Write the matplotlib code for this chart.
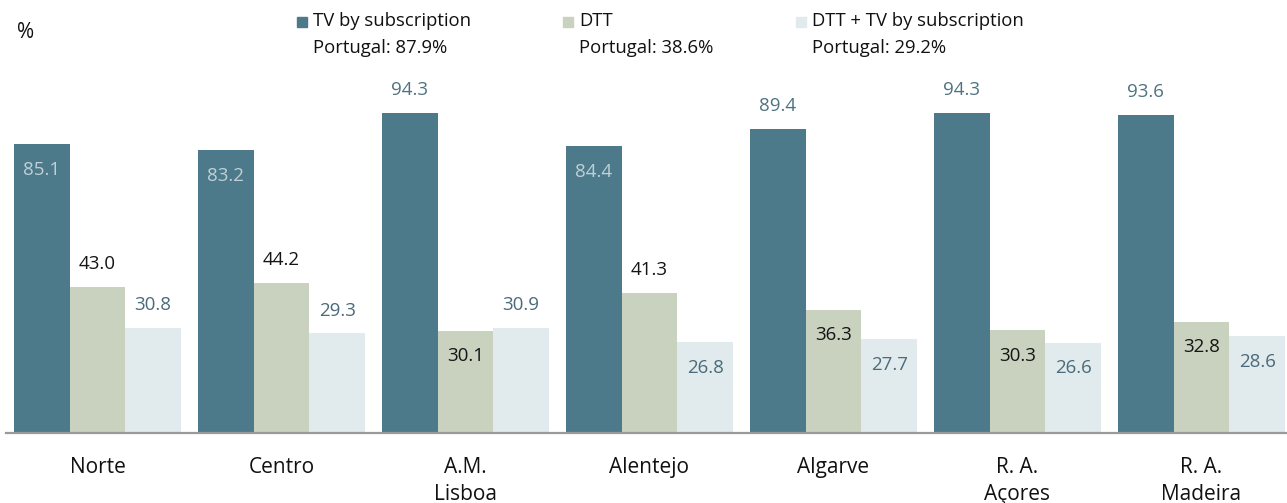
import matplotlib
matplotlib.use("Agg")
import matplotlib.pyplot as plt
from matplotlib.patches import Rectangle
import numpy as np

# ---- data ----
categories = ["Norte", "Centro", "A.M.\nLisboa", "Alentejo", "Algarve", "R. A.\nAçores", "R. A.\nMadeira"]
series_names = ["TV by subscription", "DTT", "DTT + TV by subscription"]
portugal_values = [87.9, 38.6, 29.2]
tv_subscription = [85.1, 83.2, 94.3, 84.4, 89.4, 94.3, 93.6]
dtt = [43.0, 44.2, 30.1, 41.3, 36.3, 30.3, 32.8]
dtt_plus_tv = [30.8, 29.3, 30.9, 26.8, 27.7, 26.6, 28.6]

# ---- style ----
plt.rcParams['font.family'] = ['Open Sans', 'DejaVu Sans']
colors = ["#4D7A8A", "#C9D2BF", "#E1EAED"]
# label placement per series/category ("in" = inside bar top, "out" = above bar)
placement = [
    ["in", "in", "out", "in", "out", "out", "out"],
    ["out", "out", "in", "out", "in", "in", "in"],
    ["out", "out", "out", "in", "in", "in", "in"],
]
label_colors = {
    0: {"in": "#BFD0D8", "out": "#4F7382"},
    1: {"in": "#151515", "out": "#151515"},
    2: {"in": "#4A6B79", "out": "#4A6B79"},
}

W, H = 1287, 503
fig = plt.figure(figsize=(W / 100, H / 100), dpi=100)
ax = fig.add_axes([6 / W, (H - 433) / H, (W - 6) / W, 339.6 / H])
ax.set_xlim(-0.497, 6.465)
ax.set_ylim(0, 100)

x = np.arange(len(categories))
bw = 0.3027
all_series = [tv_subscription, dtt, dtt_plus_tv]
for s, vals in enumerate(all_series):
    xs = x + (s - 1) * bw
    ax.bar(xs, vals, width=bw, color=colors[s], edgecolor="none", zorder=2)
    for i, (bx, v) in enumerate(zip(xs, vals)):
        pl = placement[s][i]
        off = 16.5 if pl == "out" else -18.5
        ax.annotate(f"{v:.1f}", (bx, v), xytext=(0, off), textcoords="offset points",
                    ha="center", va="center", fontsize=13.5,
                    color=label_colors[s][pl])

for sp in ["top", "right", "left"]:
    ax.spines[sp].set_visible(False)
ax.spines["bottom"].set_color("#9A9A9A")
ax.spines["bottom"].set_linewidth(1.6)
ax.set_yticks([])
ax.set_xticks(x)
ax.set_xticklabels(categories, fontsize=15, color="#111111", linespacing=1.38, va="top")
ax.tick_params(axis="x", length=0, pad=17)

# "%" unit label
fig.text(17 / W, 1 - 32 / H, "%", fontsize=15, color="#111111", ha="left", va="center")

# custom legend
leg_x = [297, 563, 796]
for s in range(3):
    x0 = leg_x[s]
    fig.add_artist(Rectangle((x0 / W, 1 - 27 / H), 10 / W, 10 / H,
                             transform=fig.transFigure, color=colors[s]))
    fig.text((x0 + 16) / W, 1 - 21 / H, series_names[s], fontsize=13.3,
             color="#111111", ha="left", va="center")
    fig.text((x0 + 16) / W, 1 - 48 / H, f"Portugal: {portugal_values[s]:.1f}%", fontsize=13.3,
             color="#111111", ha="left", va="center")

fig.savefig("out.png", dpi=100)
